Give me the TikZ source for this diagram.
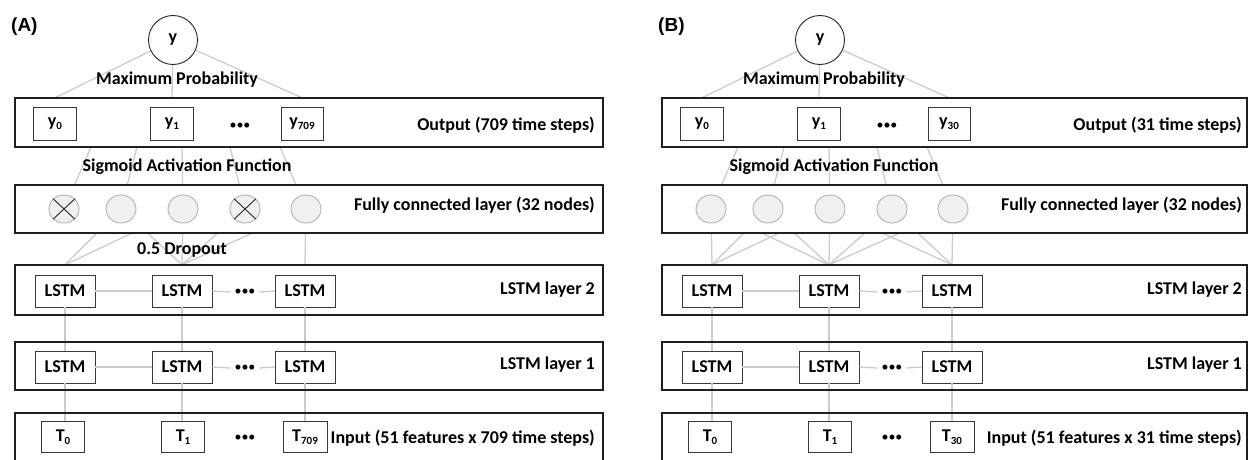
\documentclass[tikz,border=0pt]{standalone}
\usepackage{fontspec}
\setmainfont{Carlito}
\newfontfamily\tagfont{Liberation Sans}
\usetikzlibrary{shapes.geometric}
\pgfdeclarelayer{bg}
\pgfdeclarelayer{mid}
\pgfsetlayers{bg,mid,main}

\newcommand\lowtxt[1]{\raisebox{-0.35ex}{\fontsize{11}{11}\selectfont #1}}
\newcommand\dotrow{{\fontsize{14}{14}\selectfont\textbullet\textbullet\textbullet}}

\tikzset{
  big/.style={font=\bfseries\fontsize{18}{20}\selectfont},
  layerfill/.style={fill=white, draw=none, inner sep=0pt},
  layerline/.style={draw=black!88, line width=2pt},
  cellbox/.style={draw=black!78, line width=0.9pt, fill=white, inner sep=0pt,
    big, minimum height=32pt},
  ybox/.style={cellbox, minimum width=43pt, minimum height=33pt},
  lstmbox/.style={cellbox, minimum width=60pt},
  tbox/.style={cellbox, minimum width=43pt, minimum height=31pt},
  fcnode/.style={ellipse, draw=black!30, fill=black!6, line width=0.9pt,
    minimum width=30pt, minimum height=28pt, inner sep=0pt},
  outnode/.style={circle, draw=black!85, line width=0.9pt, fill=white,
    minimum size=49pt, inner sep=0pt, big},
  link/.style={draw=black!20, line width=1.3pt},
  lbl/.style={big, anchor=east, inner sep=0pt},
  dotsnode/.style={inner sep=0pt},
  paneltag/.style={font=\tagfont\bfseries\fontsize{19}{19}\selectfont, anchor=west, inner sep=0pt},
}

% #1 panel letter, #2 x shift, #3 last step index, #4 number of steps,
% #5 dropout flag, #6 width of the layer boxes
\newcommand\drawpanel[6]{%
\begin{scope}[xshift=#2pt]
  % layer boxes (white fill, borders drawn later on top of the links)
  \begin{pgfonlayer}{mid}
    \node[layerfill, minimum width=#6pt, minimum height=49pt] (#1out) at ({15+#6/2},122.5) {};
    \node[layerfill, minimum width=#6pt, minimum height=48pt] (#1fc)  at ({15+#6/2},209) {};
    \node[layerfill, minimum width=#6pt, minimum height=50pt] (#1lb2) at ({15+#6/2},290) {};
    \node[layerfill, minimum width=#6pt, minimum height=48pt] (#1lb1) at ({15+#6/2},366) {};
    \node[layerfill, minimum width=#6pt, minimum height=47.5pt] (#1inp) at ({15+#6/2},436.75) {};
  \end{pgfonlayer}

  \node[paneltag] (#1tag) at (11,27) {(#1)};

  % final prediction
  \node[outnode] (#1circ) at (173,40) {y};
  \node[big, inner sep=0pt] (#1maxp) at (177,80) {Maximum Probability};

  % output layer
  \node[ybox] (#1y0) at (55,124) {y\lowtxt{0}};
  \node[ybox] (#1y1) at (172,124) {y\lowtxt{1}};
  \node[ybox, minimum width=42pt] (#1yn) at (302,124) {y\lowtxt{#3}};
  \node[dotsnode] (#1yd) at (240,126) {\dotrow};
  \node[lbl] (#1outl) at (595,125) {Output (#4 time steps)};

  \node[big, inner sep=0pt] (#1sig) at (187,167) {Sigmoid Activation Function};

  % fully connected layer
  \node[fcnode] (#1f1) at (64,209) {};
  \node[fcnode] (#1f2) at (121,209) {};
  \node[fcnode] (#1f3) at (183,209) {};
  \node[fcnode] (#1f4) at (245,209) {};
  \node[fcnode] (#1f5) at (306,209) {};
  \node[lbl] (#1fcl) at (595,205) {Fully connected layer (32 nodes)};

  % LSTM layer 2
  \node[lstmbox] (#1m1) at (65,291) {LSTM};
  \node[lstmbox] (#1m2) at (182,291) {LSTM};
  \node[lstmbox] (#1m3) at (305,291) {LSTM};
  \node[dotsnode] (#1md) at (245,292) {\dotrow};
  \node[lbl] (#1lb2l) at (595,290) {LSTM layer 2};

  % LSTM layer 1
  \node[lstmbox] (#1n1) at (65,367) {LSTM};
  \node[lstmbox] (#1n2) at (182,367) {LSTM};
  \node[lstmbox] (#1n3) at (305,367) {LSTM};
  \node[dotsnode] (#1nd) at (245,368) {\dotrow};
  \node[lbl] (#1lb1l) at (595,365) {LSTM layer 1};

  % input layer
  \node[tbox] (#1t0) at (63,437) {T\lowtxt{0}};
  \node[tbox] (#1t1) at (183,437) {T\lowtxt{1}};
  \node[tbox, minimum width=44pt] (#1tn) at (305,437) {T\lowtxt{#3}};
  \node[dotsnode] (#1td) at (245,438) {\dotrow};
  \node[lbl] (#1inl) at (595,438) {Input (51 features x #4 time steps)};

  % points where the dense links leave the output box
  \coordinate (#1o1) at (91,147);
  \coordinate (#1o2) at (137,147);
  \coordinate (#1o3) at (182,147);
  \coordinate (#1o4) at (230,147);
  \coordinate (#1o5) at (280,147);
  % points where the dense links meet the LSTM layer 2 box
  \coordinate (#1e1) at (#1m1.north |- #1lb2.north);
  \coordinate (#1e2) at (#1m2.north |- #1lb2.north);
  \coordinate (#1e3) at (#1m3.north |- #1lb2.north);

  % dense links, hidden behind the layer boxes
  \begin{pgfonlayer}{bg}
    \draw[link] (#1circ) -- (#1y0 |- #1out.north);
    \draw[link] (#1circ) -- (#1y1 |- #1out.north);
    \draw[link] (#1circ) -- (#1yn |- #1out.north);
    \foreach \k in {1,...,5} { \draw[link] (#1o\k) -- (#1f\k.center); }
    \ifnum#5=1
      \foreach \k in {2,3} { \draw[link] (#1f\k.center) -- (#1e1); }
      \foreach \k in {2,...,5} { \draw[link] (#1f\k.center) -- (#1e2); }
      \draw[link] (#1f5.center) -- (#1e3);
    \else
      \foreach \k in {1,2,3} { \draw[link] (#1f\k.center) -- (#1e1); }
      \foreach \k in {1,...,5} { \draw[link] (#1f\k.center) -- (#1e2); }
      \foreach \k in {3,4,5} { \draw[link] (#1f\k.center) -- (#1e3); }
    \fi
  \end{pgfonlayer}

  \ifnum#5=1
    \node[big, inner sep=0pt] (#1drop) at (182,250) {0.5 Dropout};
    \foreach \k in {1,4} {
      \draw[black!85, line width=0.9pt] (#1f\k.north west) -- (#1f\k.south east)
        (#1f\k.north east) -- (#1f\k.south west);
    }
  \fi

  % recurrent and stacked connections
  \draw[link] (#1m1) -- (#1m2);
  \draw[link] (#1m2.east) -- ([xshift=-4pt]#1md.west);
  \draw[link] ([xshift=4pt]#1md.east) -- (#1m3.west);
  \draw[link] (#1n1) -- (#1n2);
  \draw[link] (#1n2.east) -- ([xshift=-4pt]#1nd.west);
  \draw[link] ([xshift=4pt]#1nd.east) -- (#1n3.west);
  \draw[link] (#1m1) -- (#1n1);
  \draw[link] (#1m2) -- (#1n2);
  \draw[link] (#1m3) -- (#1n3);
  \draw[link] (#1n1.south) -- (#1t0.north -| #1n1.south);
  \draw[link] (#1n2.south) -- (#1t1.north -| #1n2.south);
  \draw[link] (#1n3) -- (#1tn);

  % layer box borders
  \foreach \b in {out,fc,lb2,lb1,inp} {
    \draw[layerline] (#1\b.north west) rectangle (#1\b.south east);
  }
\end{scope}}

\begin{document}
\begin{tikzpicture}[x=1pt, y=-1pt]
  \useasboundingbox (0,0) rectangle (1249,460);
  \drawpanel{A}{0}{709}{709}{1}{588}
  \drawpanel{B}{647}{30}{31}{0}{585}
\end{tikzpicture}
\end{document}
